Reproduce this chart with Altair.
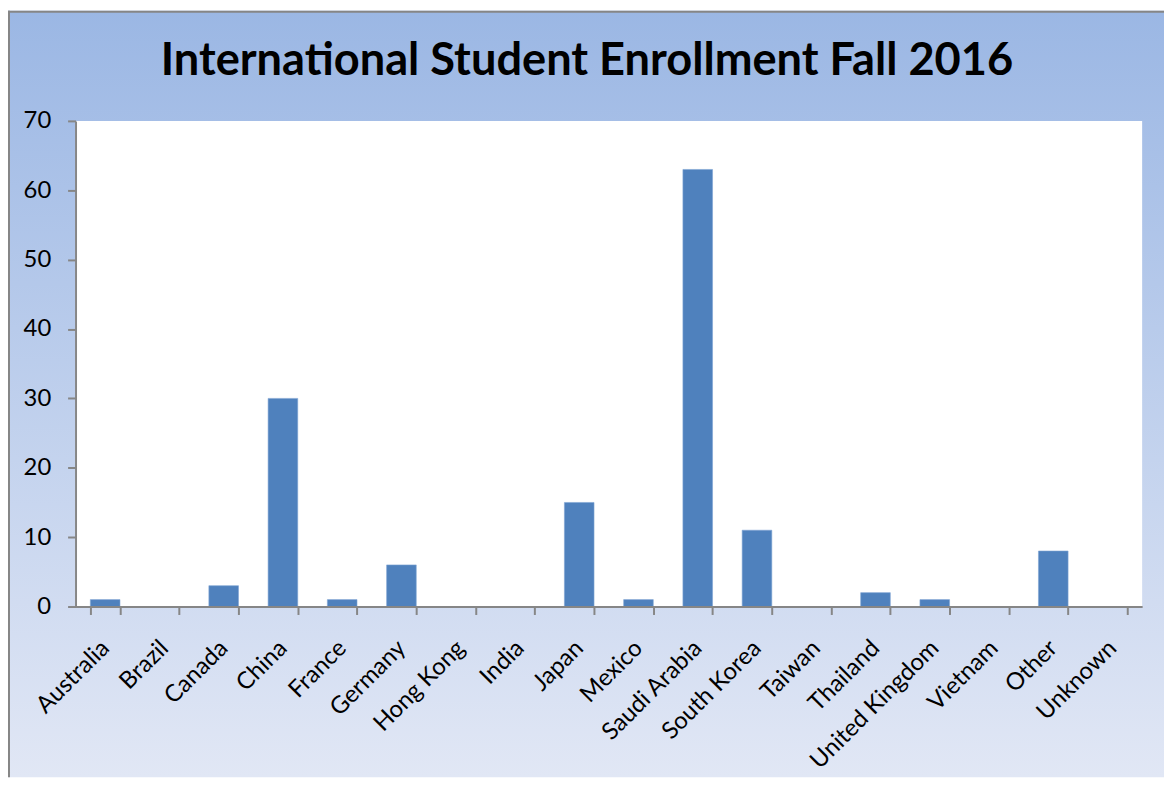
import altair as alt
import pandas as pd

countries = ["Australia", "Brazil", "Canada", "China", "France", "Germany", "Hong Kong",
             "India", "Japan", "Mexico", "Saudi Arabia", "South Korea", "Taiwan",
             "Thailand", "United Kingdom", "Vietnam", "Other", "Unknown"]
students = [1, 0, 3, 30, 1, 6, 0, 0, 15, 1, 63, 11, 0, 2, 1, 0, 8, 0]
y_ticks = [0, 10, 20, 30, 40, 50, 60, 70]

title_text = "International Student Enrollment Fall 2016"

df = pd.DataFrame({"country": countries, "students": students})

W, H = 1074, 489
PAD = {"left": 68, "top": 111, "right": 22, "bottom": 172}
one = pd.DataFrame({"k": [0]})

bg = alt.Chart(one).mark_rect(
    fill=alt.Gradient(
        gradient="linear",
        stops=[alt.GradientStop(color="#9BB7E4", offset=0),
               alt.GradientStop(color="#E1E7F5", offset=1)],
        x1=0, y1=0, x2=0, y2=1),
).encode(
    x=alt.value(-PAD["left"]), x2=alt.value(W + PAD["right"]),
    y=alt.value(-PAD["top"]), y2=alt.value(H + PAD["bottom"]),
)

border_left = alt.Chart(one).mark_rule(color="#868686", strokeWidth=2).encode(
    x=alt.value(-PAD["left"] + 1), y=alt.value(-PAD["top"]), y2=alt.value(H + PAD["bottom"])
)
border_top = alt.Chart(one).mark_rule(color="#868686", strokeWidth=2).encode(
    x=alt.value(-PAD["left"]), x2=alt.value(W + PAD["right"]), y=alt.value(-PAD["top"] + 1)
)

plot_bg = alt.Chart(one).mark_rect(fill="white").encode(
    x=alt.value(0), x2=alt.value(W), y=alt.value(0), y2=alt.value(H)
)

title = alt.Chart(pd.DataFrame({"t": [title_text]})).mark_text(
    font="Lato", fontSize=45.5, fontWeight="bold", color="black",
    align="center", baseline="alphabetic",
).encode(text="t:N", x=alt.value(515), y=alt.value(-46))

bars = alt.Chart(df).mark_bar(color="#4F81BD", stroke="#7FA3D3", strokeWidth=0.6).encode(
    x=alt.X("country:N", sort=countries,
            scale=alt.Scale(paddingInner=0.5, paddingOuter=0.25),
            axis=alt.Axis(title=None, labelAngle=-45, labelAlign="right",
                          labelBaseline="middle", labelFontSize=24,
                          labelFont="Lato", labelColor="black",
                          labelPadding=30, tickSize=8, tickBand="extent",
                          tickColor="#868686", tickWidth=2,
                          domainColor="#868686", domainWidth=2, zindex=1,
                          labelLimit=300)),
    y=alt.Y("students:Q", scale=alt.Scale(domain=[0, 70], nice=False),
            axis=alt.Axis(title=None, values=y_ticks, grid=False,
                          labelFontSize=24, labelFont="Lato", labelColor="black",
                          labelPadding=17, tickSize=8, tickColor="#868686",
                          tickWidth=2, domainColor="#868686", domainWidth=2,
                          zindex=1)),
)

chart = alt.layer(bg, border_left, border_top, plot_bg, bars, title).properties(
    width=W, height=H,
    padding=PAD,
    autosize=alt.AutoSizeParams(type="none"),
).configure_view(stroke=None, fill="white").configure(background="white")

chart.save("out.html", embed_options={"renderer": "svg", "actions": False})
